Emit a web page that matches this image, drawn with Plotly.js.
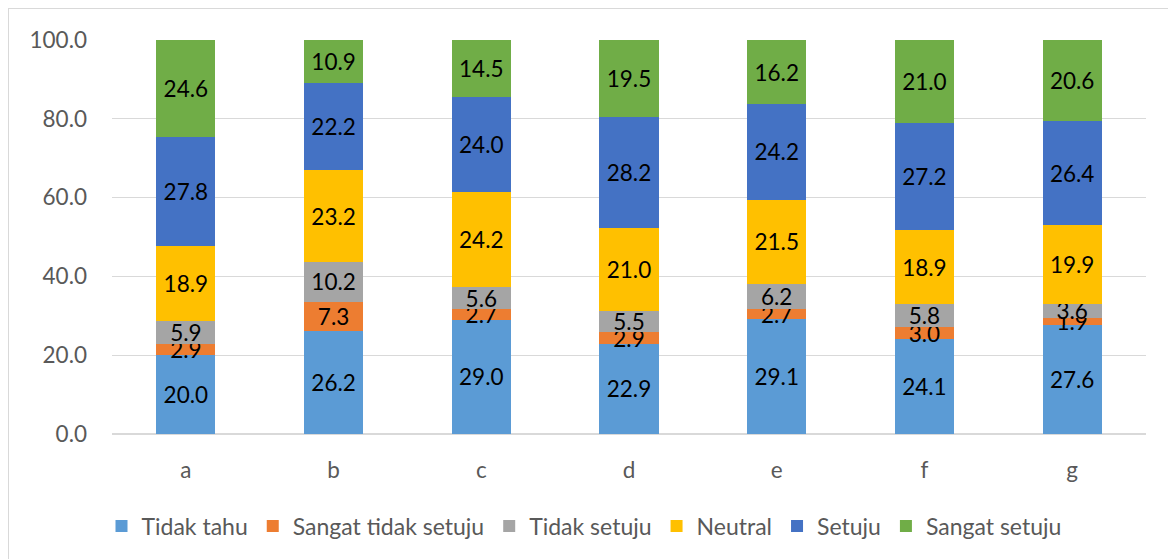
<!DOCTYPE html>
<html>
<head>
<meta charset="utf-8">
<script src="https://cdn.plot.ly/plotly-3.0.1.min.js"></script>
<style>
  html, body { margin: 0; padding: 0; background: #ffffff; }
  #wrap { position: relative; width: 1168px; height: 559px; overflow: hidden; }
  #chart { position: absolute; left: 0; top: 0; width: 1168px; height: 559px; }
  #frame { position: absolute; left: 8px; top: 8px; width: 1180px; height: 580px;
           border: 1.5px solid #D9D9D9; box-sizing: border-box; pointer-events: none; }
</style>
</head>
<body>
<div id="wrap">
  <div id="chart"></div>
  <div id="frame"></div>
</div>
<script>
const categories = ["a", "b", "c", "d", "e", "f", "g"];

const seriesNames = ["Tidak tahu", "Sangat tidak setuju", "Tidak setuju", "Neutral", "Setuju", "Sangat setuju"];

const tidakTahu         = [20.0, 26.2, 29.0, 22.9, 29.1, 24.1, 27.6];
const sangatTidakSetuju = [2.9, 7.3, 2.7, 2.9, 2.7, 3.0, 1.9];
const tidakSetuju       = [5.9, 10.2, 5.6, 5.5, 6.2, 5.8, 3.6];
const neutral           = [18.9, 23.2, 24.2, 21.0, 21.5, 18.9, 19.9];
const setuju            = [27.8, 22.2, 24.0, 28.2, 24.2, 27.2, 26.4];
const sangatSetuju      = [24.6, 10.9, 14.5, 19.5, 16.2, 21.0, 20.6];

const yTickValues = [0, 20, 40, 60, 80, 100];

const seriesValues = [tidakTahu, sangatTidakSetuju, tidakSetuju, neutral, setuju, sangatSetuju];
const seriesColors = ["#5B9BD5", "#ED7D31", "#A5A5A5", "#FFC000", "#4472C4", "#70AD47"];

const FONT = "Lato, 'Open Sans', 'Liberation Sans', sans-serif";

const traces = seriesValues.map((vals, i) => ({
  type: "bar",
  name: seriesNames[i],
  x: categories,
  y: vals,
  marker: { color: seriesColors[i], line: { width: 0 } },
  text: vals.map(v => v.toFixed(1)),
  textposition: "inside",
  insidetextanchor: "middle",
  textangle: 0,
  constraintext: "none",
  textfont: { family: FONT, size: 22.5, color: "#000000" },
  hoverinfo: "name+y"
}));

const layout = {
  width: 1168,
  height: 559,
  barmode: "stack",
  bargap: 0.6,
  paper_bgcolor: "#ffffff",
  plot_bgcolor: "#ffffff",
  margin: { l: 112, r: 22, t: 40, b: 125 },
  font: { family: FONT, color: "#595959", size: 22.5 },
  showlegend: true,
  legend: {
    orientation: "h",
    xref: "container",
    yref: "container",
    x: 0.5,
    xanchor: "center",
    y: 0.059,
    yanchor: "middle",
    traceorder: "normal",
    font: { family: FONT, size: 23, color: "#595959" },
    itemwidth: 30
  },
  xaxis: {
    type: "category",
    showgrid: false,
    zeroline: false,
    showline: false,
    ticks: "",
    ticklabelstandoff: 20,
    tickfont: { family: FONT, size: 22.5, color: "#595959" }
  },
  yaxis: {
    range: [0, 100],
    tickvals: yTickValues,
    tickformat: ".1f",
    showgrid: true,
    gridcolor: "#D9D9D9",
    gridwidth: 1.3,
    zeroline: true,
    zerolinecolor: "#D9D9D9",
    zerolinewidth: 1.3,
    showline: false,
    ticks: "",
    ticklabelstandoff: 24,
    tickfont: { family: FONT, size: 22.5, color: "#595959" }
  }
};

Plotly.newPlot("chart", traces, layout, { displayModeBar: false, staticPlot: true });
</script>
</body>
</html>
